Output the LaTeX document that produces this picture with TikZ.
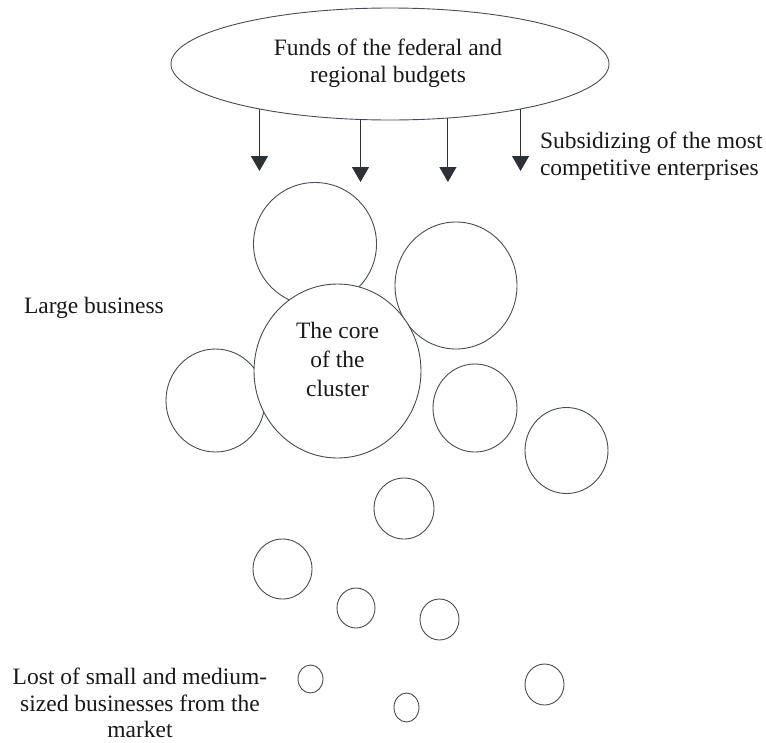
\documentclass[tikz,border=0pt]{standalone}
\usepackage{fontspec}
\setmainfont{Liberation Serif}
\usetikzlibrary{arrows.meta,shapes.geometric}
\definecolor{linec}{RGB}{70,76,82}
\definecolor{arrc}{RGB}{45,48,52}
\definecolor{textc}{RGB}{25,25,25}
\tikzset{
  bubble/.style={draw=linec, line width=0.9pt, ellipse, inner sep=0pt, outer sep=0pt},
  lbl/.style={inner sep=0pt, outer sep=0pt, text=textc, font=\fontsize{23.5}{26}\selectfont},
  arr/.style={draw=arrc, line width=1pt, -{Triangle[width=17pt,length=15pt]}},
}
\newcommand{\bub}[5]{\node[bubble, minimum width=#4pt, minimum height=#5pt] (#1) at (#2,#3) {};}
\begin{document}
\begin{tikzpicture}[x=1pt,y=-1pt]
\useasboundingbox (0,0) rectangle (766,742);
% top ellipse
\node[bubble, minimum width=438pt, minimum height=112pt] (funds) at (390,64) {};
\node[lbl, align=center, font=\fontsize{23.5}{27}\selectfont] (fundstext) at (388,63) {Funds of the federal and\\regional budgets};
% arrows
\coordinate (t1) at (264,171);
\coordinate (t2) at (361,182);
\coordinate (t3) at (448,182);
\coordinate (t4) at (525,171);
\draw[arr] (funds.199.97) -- (funds.199.97 |- t1);
\draw[arr] (funds.242.4) -- (funds.242.4 |- t2);
\draw[arr] (funds.317.05) -- (funds.317.05 |- t3);
\draw[arr] (funds.341.9) -- (funds.341.9 |- t4);
\node[lbl, align=left, anchor=west, font=\fontsize{23.5}{27}\selectfont] (subs) at (540,156) {Subsidizing of the most\\competitive enterprises};
% large circles
\bub{c1}{315}{244}{123}{123}
\bub{c2}{456}{285.5}{122}{127}
\bub{c4}{215.5}{400.5}{99}{103}
\node[bubble, fill=white, minimum width=167pt, minimum height=174pt] (core) at (337.5,371) {};
\node[lbl, align=center, font=\fontsize{23.5}{29}\selectfont] (coretext) at (337.5,359) {The core\\of the\\cluster};
\bub{c5}{475}{408}{84}{88}
\bub{c6}{566.5}{450.5}{83}{86}
\bub{c7}{404}{508.5}{60}{61}
\bub{c8}{282.5}{569}{59}{60}
\bub{c9}{356}{608}{38}{40}
\bub{c10}{439.5}{619.5}{39}{41}
\bub{c11}{310.5}{679}{25}{28}
\bub{c12}{406.5}{707.5}{25}{29}
\bub{c13}{544.5}{684.5}{39}{41}
% labels
\node[lbl, anchor=base west] (large) at (24,313) {Large business};
\node[lbl, align=center, font=\fontsize{23.5}{26.5}\selectfont] (lost) at (140,703) {Lost of small and medium-\\sized businesses from the\\market};
\end{tikzpicture}
\end{document}
